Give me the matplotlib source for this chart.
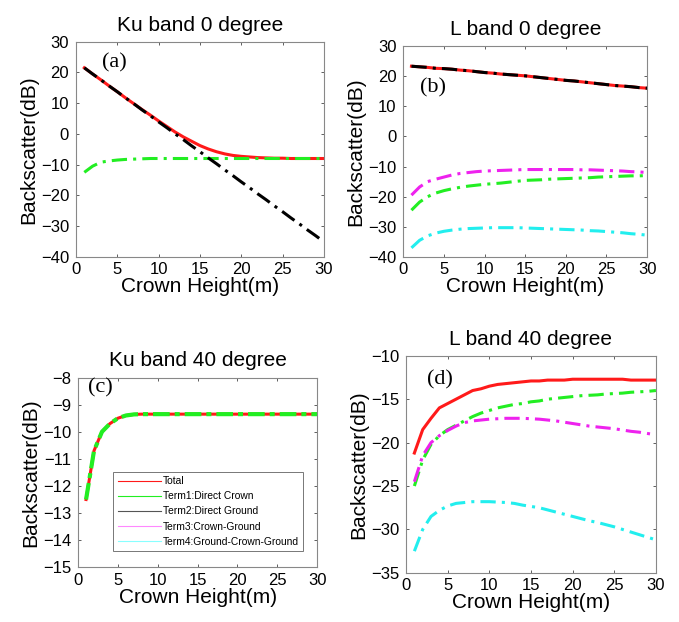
import matplotlib
matplotlib.use("Agg")
import matplotlib.pyplot as plt
from matplotlib.lines import Line2D

plt.rcParams['font.family'] = ['Liberation Sans', 'DejaVu Sans']

x = list(range(1, 31))

# (a) Ku band 0 degree
a_total = [21.5, 19.5, 17.6, 15.6, 13.7, 11.7, 9.8, 7.9, 6.1, 4.2,
           2.4, 0.6, -1.0, -2.4, -3.8, -4.9, -5.8, -6.5, -7.0, -7.3,
           -7.5, -7.7, -7.8, -7.9, -7.9, -8.0, -8.0, -8.0, -8.0, -8.0]
a_term1 = [-12.5, -10.5, -9.2, -8.8, -8.5, -8.3, -8.2, -8.1, -8.0, -8.0,
           -8.0, -8.0, -8.0, -8.0, -8.0, -8.0, -8.0, -8.0, -8.0, -8.0,
           -8.0, -8.0, -8.0, -8.0, -8.0, -8.0, -8.0, -8.0, -8.0, -8.0]
a_term2 = [21.5, 19.5, 17.6, 15.6, 13.7, 11.7, 9.8, 7.8, 5.9, 3.9,
           2.0, 0.0, -1.9, -3.9, -5.8, -7.8, -9.7, -11.7, -13.6, -15.6,
           -17.5, -19.5, -21.4, -23.4, -25.3, -27.3, -29.2, -31.2, -33.1, -35.1]

# (b) L band 0 degree
b_total = [23.3, 23.1, 22.9, 22.6, 22.5, 22.3, 22.0, 21.8, 21.5, 21.2,
           21.0, 20.7, 20.5, 20.3, 20.1, 19.8, 19.5, 19.2, 18.9, 18.6,
           18.4, 18.1, 17.8, 17.5, 17.2, 16.9, 16.7, 16.5, 16.2, 16.0]
b_term1 = [-24.5, -21.8, -20.0, -18.8, -18.0, -17.4, -16.9, -16.5, -16.2, -15.9,
           -15.7, -15.5, -15.2, -14.9, -14.6, -14.5, -14.4, -14.2, -14.1, -14.0,
           -13.9, -13.8, -13.7, -13.5, -13.4, -13.3, -13.2, -13.1, -13.1, -13.0]
b_term3 = [-19.5, -16.8, -15.0, -14.2, -13.5, -12.8, -12.3, -12.0, -11.7, -11.5,
           -11.4, -11.3, -11.2, -11.1, -11.0, -11.0, -11.0, -11.0, -11.0, -11.0,
           -11.0, -11.1, -11.1, -11.2, -11.3, -11.4, -11.5, -11.7, -11.8, -12.0]
b_term4 = [-37.0, -34.5, -33.0, -32.1, -31.5, -31.1, -30.8, -30.6, -30.5, -30.4,
           -30.3, -30.3, -30.3, -30.3, -30.4, -30.5, -30.6, -30.7, -30.8, -30.9,
           -31.0, -31.1, -31.3, -31.4, -31.6, -31.8, -32.0, -32.3, -32.5, -32.8]

# (c) Ku band 40 degree
c_total = [-12.5, -10.7, -10.0, -9.7, -9.5, -9.4, -9.36, -9.35, -9.35, -9.35,
           -9.35, -9.35, -9.35, -9.35, -9.35, -9.35, -9.35, -9.35, -9.35, -9.35,
           -9.35, -9.35, -9.35, -9.35, -9.35, -9.35, -9.35, -9.35, -9.35, -9.35]
c_term1 = list(c_total)

# (d) L band 40 degree
d_total = [-21.2, -18.5, -17.2, -16.0, -15.5, -15.0, -14.5, -14.0, -13.8, -13.5,
           -13.3, -13.2, -13.1, -13.0, -12.9, -12.9, -12.8, -12.8, -12.8, -12.7,
           -12.7, -12.7, -12.7, -12.7, -12.7, -12.7, -12.8, -12.8, -12.8, -12.8]
d_term1 = [-25.0, -22.0, -20.2, -19.2, -18.5, -18.0, -17.5, -17.0, -16.6, -16.3,
           -16.0, -15.8, -15.6, -15.5, -15.3, -15.2, -15.0, -14.9, -14.8, -14.7,
           -14.6, -14.55, -14.5, -14.4, -14.35, -14.3, -14.2, -14.15, -14.1, -14.0]
d_term3 = [-24.5, -21.5, -20.0, -19.2, -18.6, -18.1, -17.7, -17.5, -17.4, -17.3,
           -17.25, -17.2, -17.2, -17.2, -17.25, -17.3, -17.4, -17.5, -17.65, -17.8,
           -17.95, -18.1, -18.2, -18.3, -18.4, -18.55, -18.7, -18.8, -18.95, -19.1]
d_term4 = [-32.5, -30.0, -28.5, -27.8, -27.3, -27.0, -26.9, -26.8, -26.8, -26.8,
           -26.85, -26.9, -27.0, -27.2, -27.35, -27.5, -27.75, -28.0, -28.25, -28.5,
           -28.75, -29.0, -29.2, -29.45, -29.7, -30.0, -30.3, -30.6, -30.9, -31.2]

titles = ["Ku band 0 degree", "L band 0 degree", "Ku band 40 degree", "L band 40 degree"]
panel_labels = ["(a)", "(b)", "(c)", "(d)"]
legend_labels = ["Total", "Term1:Direct Crown", "Term2:Direct Ground",
                 "Term3:Crown-Ground", "Term4:Ground-Crown-Ground"]

RED = '#ff1a1a'
GREEN = '#22ee22'
BLACK = '#000000'
MAG = '#ee22ee'
CYAN = '#22eeee'
LW = 2.2
DD = (0, (5, 2, 1, 2))
DD_C = (0, (4, 1.2, 1.2, 1.2))

fig = plt.figure(figsize=(6.79, 6.22), dpi=100)

rects = [
    [0.112, 0.587, 0.365, 0.346],
    [0.594, 0.587, 0.359, 0.339],
    [0.115, 0.088, 0.352, 0.305],
    [0.598, 0.079, 0.368, 0.349],
]
ylims = [(-40, 30), (-40, 30), (-15, -8), (-35, -10)]
yticks = [range(-40, 31, 10), range(-40, 31, 10), range(-15, -7, 1), range(-35, -9, 5)]
label_pos = [(0.105, 0.9), (0.07, 0.8), (0.04, 0.947), (0.084, 0.89)]

axes = [fig.add_axes(r) for r in rects]

# (a)
ax = axes[0]
ax.plot(x, a_total, color=RED, lw=LW, ls='-')
ax.plot(x, a_term1, color=GREEN, lw=LW, ls=DD)
ax.plot(x, a_term2, color=BLACK, lw=LW, ls=DD)

# (b)
ax = axes[1]
ax.plot(x, b_total, color=RED, lw=LW, ls='-')
ax.plot(x, b_total, color=BLACK, lw=LW, ls=DD)
ax.plot(x, b_term1, color=GREEN, lw=LW, ls=DD)
ax.plot(x, b_term3, color=MAG, lw=LW, ls=DD)
ax.plot(x, b_term4, color=CYAN, lw=LW, ls=DD)

# (c)
ax = axes[2]
ax.plot(x, c_total, color=RED, lw=LW, ls='-')
ax.plot(x, c_term1, color=GREEN, lw=LW + 0.8, ls=DD_C)

# (d)
ax = axes[3]
ax.plot(x, d_total, color=RED, lw=LW, ls='-')
ax.plot(x, d_term1, color=GREEN, lw=LW, ls=DD)
ax.plot(x, d_term3, color=MAG, lw=LW, ls=DD)
ax.plot(x, d_term4, color=CYAN, lw=LW, ls=DD)

for i, ax in enumerate(axes):
    ax.set_xlim(0, 30)
    ax.set_ylim(*ylims[i])
    ax.set_xticks(range(0, 31, 5))
    ax.set_yticks(list(yticks[i]))
    ax.tick_params(direction='in', length=2.5, width=0.6, top=True, right=True,
                   labelsize=12, color='#444444')
    ax.tick_params(axis='x', pad=4)
    ax.tick_params(axis='y', pad=5)
    for s in ax.spines.values():
        s.set_color('#888888')
        s.set_linewidth(0.8)
    ax.set_title(titles[i], fontsize=15, pad=8)
    ax.set_xlabel("Crown Height(m)", fontsize=15, labelpad=0)
    ax.set_ylabel("Backscatter(dB)", fontsize=15, labelpad=2)
    ax.text(label_pos[i][0], label_pos[i][1], panel_labels[i], transform=ax.transAxes,
            fontsize=16, family='Liberation Serif', va='center', ha='left')

handles = [Line2D([], [], color=c, lw=0.8) for c in [RED, GREEN, '#555555', '#ff88ff', '#88ffff']]
leg = axes[2].legend(handles, legend_labels, loc='lower left',
                     bbox_to_anchor=(0.146, 0.084, 0.794, 0.5), mode='expand',
                     fontsize=7.4, frameon=True, fancybox=False, handlelength=4.2,
                     handletextpad=0.2, borderpad=0.45, labelspacing=0.5, borderaxespad=0)
leg.get_frame().set_edgecolor('#555555')
leg.get_frame().set_linewidth(0.7)

fig.savefig("out.png", dpi=100)
